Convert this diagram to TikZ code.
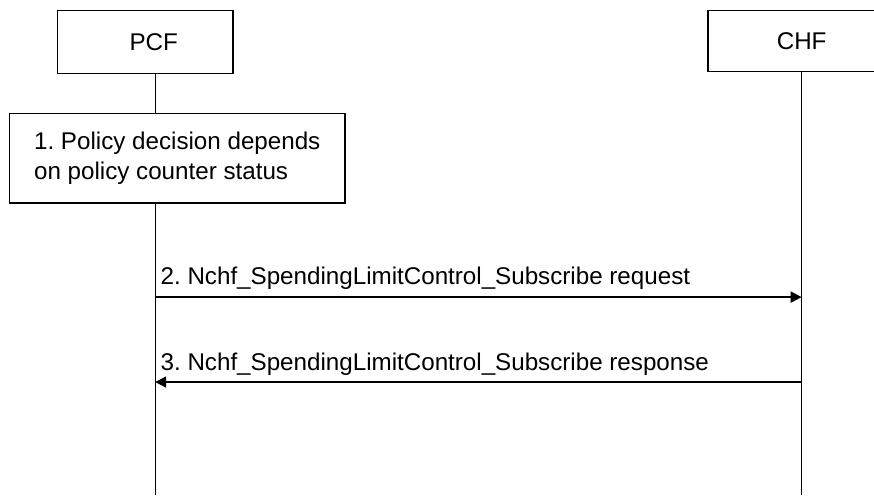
\documentclass[tikz,border=0pt]{standalone}
\usepackage{fontspec}
\setmainfont{Liberation Sans}
\frenchspacing
\usetikzlibrary{arrows.meta}
\begin{document}
\begin{tikzpicture}[x=0.5pt,y=-0.5pt,
	entity/.style={draw=black, line width=0.75pt, inner sep=0pt, font=\fontsize{12.1}{15}\selectfont},
	action/.style={draw=black, line width=0.75pt, inner sep=0pt, align=left, font=\fontsize{12.1}{15}\selectfont},
	lifeline/.style={line width=0.75pt},
	msg/.style={line width=1pt, -{Triangle[length=5.5pt,width=5.5pt]}},
	msglabel/.style={anchor=base west, inner sep=0pt, font=\fontsize{12.1}{15}\selectfont}]

	%Background
	\draw[draw=white, fill=white] (0,0) rectangle (874,495);
	\useasboundingbox (0,0) rectangle (874,495);

	%Entities
	\node[entity, minimum width=88pt, minimum height=31.5pt] (pcf) at (145,41.5) {\hspace{8.5pt}PCF};
	\node[entity, minimum width=94pt, minimum height=30.5pt] (chf) at (802,40.5) {CHF};

	%Step 1
	\node[action, minimum width=168pt, minimum height=45pt] (step1) at (177,158) {1. Policy decision depends\\on policy counter status};

	%Lifelines
	\coordinate (pcfx) at (155,0);
	\coordinate (bottom) at (0,495);
	\draw[lifeline] (pcfx |- pcf.south) -- (pcfx |- step1.north);
	\draw[lifeline] (pcfx |- step1.south) -- (pcfx |- bottom);
	\draw[lifeline] (chf.south) -- (chf.south |- bottom);

	%Messages
	\coordinate (m2) at (0,297);
	\coordinate (m3) at (0,382);
	\draw[msg] (pcfx |- m2) -- (chf.south |- m2);
	\node[msglabel] (m2label) at (160,284) {2. Nchf\_SpendingLimitControl\_Subscribe request};
	\draw[msg] (chf.south |- m3) -- (pcfx |- m3);
	\node[msglabel] (m3label) at (160,370) {3. Nchf\_SpendingLimitControl\_Subscribe response};

\end{tikzpicture}
\end{document}
